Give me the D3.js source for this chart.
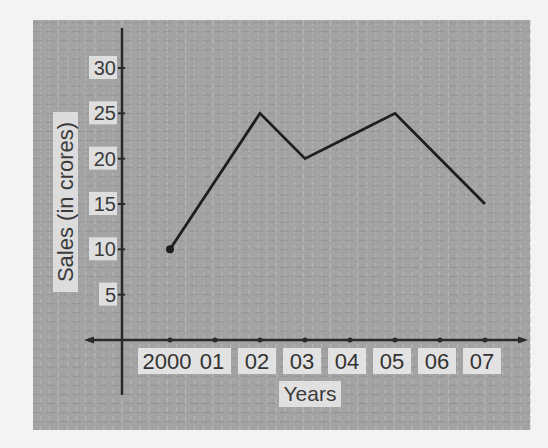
<!DOCTYPE html>
<html>
<head>
<meta charset="utf-8">
<script src="https://cdn.jsdelivr.net/npm/d3@7"></script>
<style>
  body { margin: 0; background: #f3f3f3; }
  svg { display: block; font-family: "Liberation Sans", Arial, sans-serif; }
</style>
</head>
<body>
<svg id="chart" width="548" height="448"></svg>
<script>
// data
const years = ["2000", "01", "02", "03", "04", "05", "06", "07"];
const sales = [10, 17.5, 25, 20, 22.5, 25, 20, 15];
const yTicks = [5, 10, 15, 20, 25, 30];

const svg = d3.select("#chart");

// graph paper
const paper = { x: 33, y: 20, w: 497, h: 410 };
svg.append("rect")
    .attr("x", paper.x).attr("y", paper.y)
    .attr("width", paper.w).attr("height", paper.h)
    .attr("fill", "#a3a3a3");

const originX = 122, originY = 340;

// y scale: 0 at the x axis, about 9 px per unit
const y = d3.scaleLinear().domain([0, 30]).range([originY, 68]);
const x = d3.scalePoint().domain(years).range([170, 485]);

// faint grid, one line per unit
const unit = y(0) - y(1);
const grid = svg.append("g").attr("stroke-width", 1);
const vx = d3.range(originX % unit, paper.x + paper.w, unit).filter(v => v > paper.x);
const hy = d3.range(originY % unit, paper.y + paper.h, unit).filter(v => v > paper.y);
grid.selectAll("line.v").data(vx).join("line")
    .attr("x1", d => d).attr("x2", d => d)
    .attr("y1", paper.y).attr("y2", paper.y + paper.h)
    .attr("stroke", "#b8b8b8").attr("stroke-dasharray", "6,3");
grid.selectAll("line.h").data(hy).join("line")
    .attr("x1", paper.x).attr("x2", paper.x + paper.w)
    .attr("y1", d => d).attr("y2", d => d)
    .attr("stroke", "#939393").attr("stroke-dasharray", "9,4");

// axes
const axisCol = "#2a2a2a";
svg.append("line")
    .attr("x1", 88).attr("x2", 524)
    .attr("y1", originY).attr("y2", originY)
    .attr("stroke", axisCol).attr("stroke-width", 2.5);
svg.append("path")
    .attr("d", `M84,${originY} l10,-3.5 v7 z M528,${originY} l-10,-3.5 v7 z`)
    .attr("fill", axisCol);
svg.append("line")
    .attr("x1", originX).attr("x2", originX)
    .attr("y1", 28).attr("y2", 395)
    .attr("stroke", axisCol).attr("stroke-width", 2.5);

// y ticks + labels on light boxes
const yg = svg.append("g");
yTicks.forEach(t => {
  yg.append("line")
    .attr("x1", originX - 4).attr("x2", originX + 3)
    .attr("y1", y(t)).attr("y2", y(t))
    .attr("stroke", axisCol).attr("stroke-width", 2);
  const w = t < 10 ? 18 : 28;
  yg.append("rect")
    .attr("x", originX - 5 - w).attr("y", y(t) - 12)
    .attr("width", w).attr("height", 23)
    .attr("fill", "#dedede");
  yg.append("text")
    .attr("x", originX - 6).attr("y", y(t) + 7)
    .attr("text-anchor", "end")
    .attr("font-size", 20).attr("fill", "#3a3a3a")
    .text(t);
});

// x ticks (dots on the axis) + labels
const xg = svg.append("g");
years.forEach(yr => {
  xg.append("circle")
    .attr("cx", x(yr)).attr("cy", originY).attr("r", 2.5)
    .attr("fill", axisCol);
  const w = yr.length > 2 ? 58 : 38;
  xg.append("rect")
    .attr("x", x(yr) - 3 - w / 2).attr("y", 348)
    .attr("width", w).attr("height", 26)
    .attr("fill", "#e2e2e2");
  xg.append("text")
    .attr("x", x(yr) - 3).attr("y", 369)
    .attr("text-anchor", "middle")
    .attr("font-size", 22).attr("fill", "#333")
    .text(yr);
});

// axis titles
svg.append("rect")
    .attr("x", 279).attr("y", 381).attr("width", 62).attr("height", 26)
    .attr("fill", "#e0e0e0");
svg.append("text")
    .attr("x", 310).attr("y", 401)
    .attr("text-anchor", "middle")
    .attr("font-size", 21).attr("fill", "#3a3a3a")
    .text("Years");

svg.append("rect")
    .attr("x", 53).attr("y", 112).attr("width", 25).attr("height", 180)
    .attr("fill", "#dcdcdc");
svg.append("text")
    .attr("transform", "translate(73,202) rotate(-90)")
    .attr("text-anchor", "middle")
    .attr("font-size", 22).attr("fill", "#3a3a3a")
    .text("Sales (in crores)");

// sales line
const line = d3.line()
    .x((d, i) => x(years[i]))
    .y(d => y(d));
svg.append("path")
    .datum(sales)
    .attr("d", line)
    .attr("fill", "none")
    .attr("stroke", "#1e1e1e")
    .attr("stroke-width", 2.8)
    .attr("stroke-linejoin", "miter");
svg.append("circle")
    .attr("cx", x(years[0])).attr("cy", y(sales[0])).attr("r", 4)
    .attr("fill", "#1e1e1e");
</script>
</body>
</html>
